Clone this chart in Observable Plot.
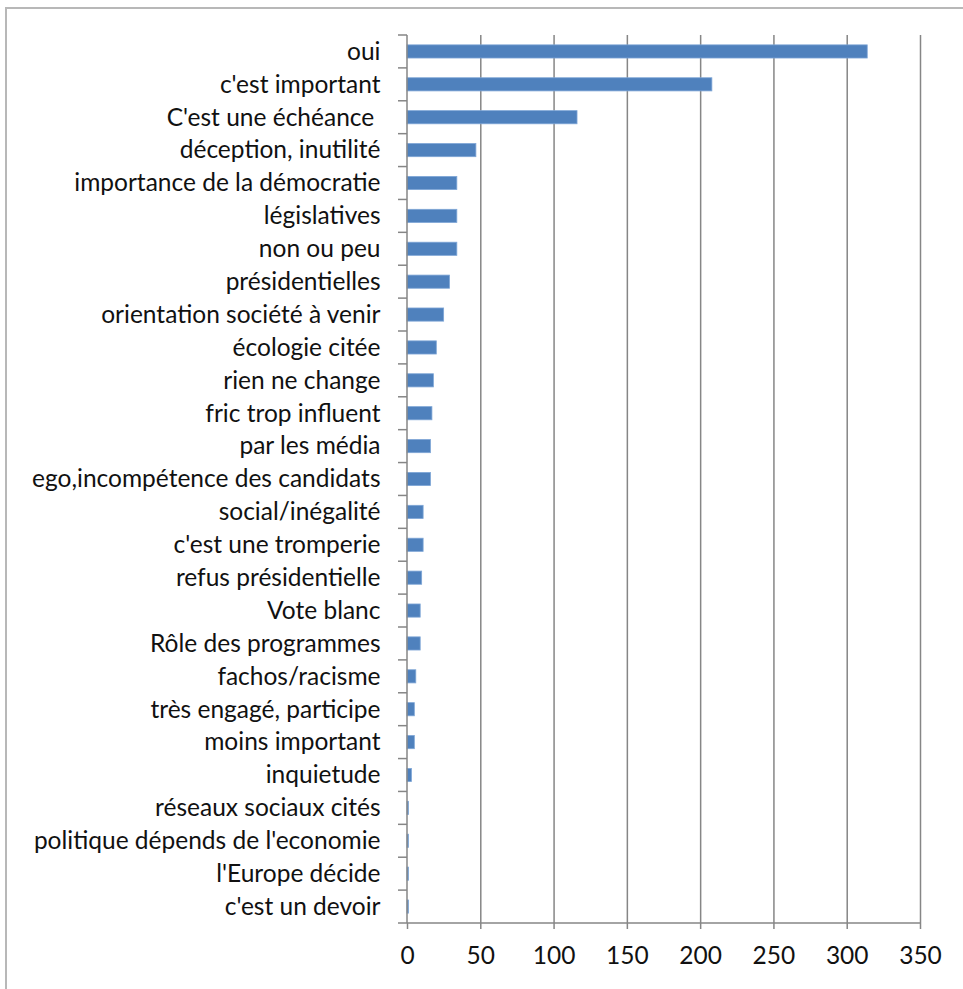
<!DOCTYPE html>
<html>
<head>
<meta charset="utf-8">
<script src="https://cdn.jsdelivr.net/npm/d3@7"></script>
<script src="https://cdn.jsdelivr.net/npm/@observablehq/plot@0.6"></script>
<style>
  html, body { margin: 0; padding: 0; background: #fff; overflow: hidden; }
  #frame { position: absolute; left: 5px; top: 7px; width: 1000px; height: 1000px;
           border-left: 2px solid #b8b8b8; border-top: 2px solid #b8b8b8; }
  #chart { position: absolute; left: 0; top: 0; }
</style>
</head>
<body>
<div id="frame"></div>
<div id="chart"></div>
<script>
const categories = [
  "oui", "c'est important", "C'est une échéance ", "déception, inutilité",
  "importance de la démocratie", "législatives", "non ou peu", "présidentielles",
  "orientation société à venir", "écologie citée", "rien ne change", "fric trop influent",
  "par les média", "ego,incompétence des candidats", "social/inégalité", "c'est une tromperie",
  "refus présidentielle", "Vote blanc", "Rôle des programmes", "fachos/racisme",
  "très engagé, participe", "moins important", "inquietude", "réseaux sociaux cités",
  "politique dépends de l'economie", "l'Europe décide", "c'est un devoir"
];
const values = [314, 208, 116, 47, 34, 34, 34, 29, 25, 20, 18, 17, 16, 16, 11, 11, 10, 9, 9, 6, 5, 5, 3, 1, 1, 1, 1];
const xTicks = [0, 50, 100, 150, 200, 250, 300, 350];

const data = categories.map((c, i) => ({category: c, value: values[i]}));
const axisColor = "#868686";

// y-axis ticks at band boundaries + axis lines, drawn from the scales
function axisLines(index, scales, values, dimensions) {
  const y = scales.y, x = scales.x;
  const step = y.step ? y.step() : (dimensions.height - dimensions.marginTop - dimensions.marginBottom) / categories.length;
  const bw = y.bandwidth();
  const x0 = x(0);
  const g = d3.create("svg:g").attr("stroke", axisColor).attr("stroke-width", 1.5);
  const top = y(categories[0]) - (step - bw) / 2;
  const bottom = y(categories[categories.length - 1]) + bw + (step - bw) / 2;
  const bounds = categories.map(c => y(c) - (step - bw) / 2).concat([bottom]);
  for (const b of bounds) {
    g.append("line").attr("x1", x0 - 9).attr("x2", x0).attr("y1", b).attr("y2", b);
  }
  g.append("line").attr("x1", x0).attr("x2", x0).attr("y1", top).attr("y2", bottom);
  g.append("line").attr("x1", x0).attr("x2", x(350)).attr("y1", bottom).attr("y2", bottom);
  return g.node();
}

const plot = Plot.plot({
  width: 963,
  height: 989,
  marginLeft: 407,
  marginRight: 43,
  marginTop: 35,
  marginBottom: 66,
  style: { fontFamily: "Lato", fontSize: "24.5px", color: "#111", background: "transparent" },
  x: { domain: [0, 350], ticks: xTicks, label: null },
  y: { domain: categories, paddingInner: 0.6, paddingOuter: 0.3, round: false, label: null },
  marks: [
    Plot.gridX(xTicks.filter(d => d > 0), { stroke: axisColor, strokeOpacity: 1, strokeWidth: 1.5 }),
    Plot.barX(data, { y: "category", x: "value", fill: "#4f81bd", stroke: "#7ea6d6", strokeWidth: 0.8 }),
    Plot.axisX(xTicks, { tickSize: 6, tickPadding: 17, stroke: axisColor, strokeWidth: 1.5, fontSize: 24.5 }),
    Plot.axisY({ tickSize: 0, tickPadding: 27, fontSize: 24.5 }),
    axisLines
  ]
});
document.getElementById("chart").appendChild(plot);
</script>
</body>
</html>
